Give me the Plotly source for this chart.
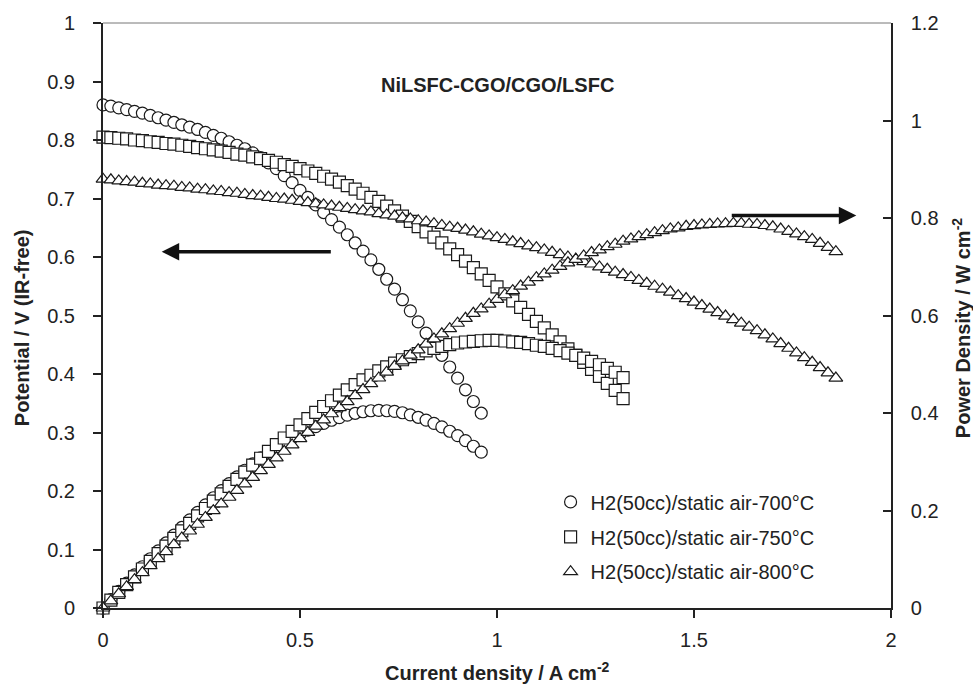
import plotly.graph_objects as go

# ---------------- data ----------------
I_700 = [0.00, 0.02, 0.04, 0.06, 0.08, 0.10, 0.12, 0.14, 0.16, 0.18, 0.20, 0.22, 0.24, 0.26, 0.28,
         0.30, 0.32, 0.34, 0.36, 0.38, 0.40, 0.42, 0.44, 0.46, 0.48, 0.50, 0.52, 0.54, 0.56, 0.58,
         0.60, 0.62, 0.64, 0.66, 0.68, 0.70, 0.72, 0.74, 0.76, 0.78, 0.80, 0.82, 0.84, 0.86, 0.88,
         0.90, 0.92, 0.94, 0.96]
V_700 = [0.860, 0.858, 0.855, 0.852, 0.849, 0.846, 0.842, 0.838, 0.834, 0.830, 0.826, 0.822, 0.818,
         0.813, 0.808, 0.803, 0.797, 0.791, 0.785, 0.778, 0.770, 0.761, 0.751, 0.739, 0.727, 0.714,
         0.702, 0.689, 0.676, 0.664, 0.651, 0.638, 0.624, 0.610, 0.595, 0.579, 0.562, 0.545, 0.527,
         0.508, 0.489, 0.470, 0.451, 0.432, 0.412, 0.393, 0.373, 0.353, 0.333]
P_700 = [0.0, 0.0172, 0.0342, 0.0511, 0.0679, 0.0846, 0.1010, 0.1173, 0.1334, 0.1494, 0.1652, 0.1808,
         0.1963, 0.2114, 0.2262, 0.2409, 0.2550, 0.2689, 0.2826, 0.2956, 0.3080, 0.3196, 0.3304,
         0.3399, 0.3490, 0.3570, 0.3650, 0.3721, 0.3786, 0.3851, 0.3906, 0.3956, 0.3994, 0.4026,
         0.4046, 0.4053, 0.4046, 0.4033, 0.4005, 0.3962, 0.3912, 0.3854, 0.3788, 0.3715, 0.3626,
         0.3537, 0.3432, 0.3318, 0.3197]

I_750 = [0.00, 0.02, 0.04, 0.06, 0.08, 0.10, 0.12, 0.14, 0.16, 0.18, 0.20, 0.22, 0.24, 0.26, 0.28,
         0.30, 0.32, 0.34, 0.36, 0.38, 0.40, 0.42, 0.44, 0.46, 0.48, 0.50, 0.52, 0.54, 0.56, 0.58,
         0.60, 0.62, 0.64, 0.66, 0.68, 0.70, 0.72, 0.74, 0.76, 0.78, 0.80, 0.82, 0.84, 0.86, 0.88,
         0.90, 0.92, 0.94, 0.96, 0.98, 1.00, 1.02, 1.04, 1.06, 1.08, 1.10, 1.12, 1.14, 1.16, 1.18,
         1.20, 1.22, 1.24, 1.26, 1.28, 1.30, 1.32]
V_750 = [0.805, 0.804, 0.803, 0.802, 0.800, 0.799, 0.797, 0.796, 0.794, 0.793, 0.791, 0.789, 0.787,
         0.785, 0.783, 0.781, 0.779, 0.776, 0.774, 0.771, 0.768, 0.765, 0.762, 0.758, 0.755, 0.751,
         0.747, 0.743, 0.738, 0.733, 0.728, 0.722, 0.716, 0.709, 0.702, 0.695, 0.687, 0.679, 0.670,
         0.661, 0.652, 0.643, 0.634, 0.624, 0.614, 0.604, 0.593, 0.582, 0.571, 0.560, 0.549, 0.537,
         0.525, 0.514, 0.502, 0.490, 0.479, 0.467, 0.455, 0.443, 0.432, 0.420, 0.408, 0.396, 0.384,
         0.372, 0.358]
P_750 = [0.0, 0.0161, 0.0321, 0.0481, 0.0640, 0.0800, 0.0956, 0.1114, 0.1270, 0.1427, 0.1582, 0.1736,
         0.1889, 0.2041, 0.2192, 0.2343, 0.2493, 0.2638, 0.2786, 0.2930, 0.3072, 0.3213, 0.3353,
         0.3487, 0.3624, 0.3755, 0.3884, 0.4012, 0.4133, 0.4251, 0.4368, 0.4476, 0.4582, 0.4679,
         0.4774, 0.4865, 0.4946, 0.5025, 0.5092, 0.5156, 0.5216, 0.5273, 0.5326, 0.5366, 0.5403,
         0.5436, 0.5456, 0.5471, 0.5482, 0.5488, 0.5490, 0.5477, 0.5460, 0.5448, 0.5422, 0.5390,
         0.5365, 0.5324, 0.5278, 0.5227, 0.5184, 0.5124, 0.5059, 0.4990, 0.4915, 0.4836, 0.4726]

I_800 = [0.00, 0.02, 0.04, 0.06, 0.08, 0.10, 0.12, 0.14, 0.16, 0.18, 0.20, 0.22, 0.24, 0.26, 0.28,
         0.30, 0.32, 0.34, 0.36, 0.38, 0.40, 0.42, 0.44, 0.46, 0.48, 0.50, 0.52, 0.54, 0.56, 0.58,
         0.60, 0.62, 0.64, 0.66, 0.68, 0.70, 0.72, 0.74, 0.76, 0.78, 0.80, 0.82, 0.84, 0.86, 0.88,
         0.90, 0.92, 0.94, 0.96, 0.98, 1.00, 1.02, 1.04, 1.06, 1.08, 1.10, 1.12, 1.14, 1.16, 1.18,
         1.20, 1.22, 1.24, 1.26, 1.28, 1.30, 1.32, 1.34, 1.36, 1.38, 1.40, 1.42, 1.44, 1.46, 1.48,
         1.50, 1.52, 1.54, 1.56, 1.58, 1.60, 1.62, 1.64, 1.66, 1.68, 1.70, 1.72, 1.74, 1.76, 1.78,
         1.80, 1.82, 1.84, 1.86]
V_800 = [0.733, 0.732, 0.730, 0.729, 0.728, 0.726, 0.725, 0.723, 0.722, 0.721,
         0.719, 0.718, 0.716, 0.715, 0.713, 0.712, 0.710, 0.709, 0.707, 0.705,
         0.704, 0.702, 0.700, 0.699, 0.697, 0.695, 0.693, 0.691, 0.689, 0.687,
         0.685, 0.683, 0.681, 0.679, 0.677, 0.674, 0.672, 0.670, 0.667, 0.665,
         0.662, 0.660, 0.657, 0.654, 0.651, 0.649, 0.646, 0.643, 0.639, 0.636,
         0.633, 0.630, 0.626, 0.623, 0.619, 0.616, 0.612, 0.608, 0.604, 0.600,
         0.596, 0.592, 0.588, 0.583, 0.579, 0.574, 0.570, 0.565, 0.560, 0.555,
         0.550, 0.545, 0.540, 0.534, 0.529, 0.523, 0.517, 0.511, 0.505, 0.499,
         0.493, 0.487, 0.480, 0.474, 0.467, 0.460, 0.452, 0.444, 0.436, 0.428,
         0.420, 0.411, 0.402, 0.393]
P_800 = [0.0, 0.0146, 0.0292, 0.0437, 0.0582, 0.0726, 0.0870, 0.1012, 0.1155, 0.1298,
         0.1438, 0.1580, 0.1718, 0.1859, 0.1996, 0.2136, 0.2272, 0.2411, 0.2545, 0.2679,
         0.2816, 0.2948, 0.3080, 0.3215, 0.3346, 0.3475, 0.3604, 0.3731, 0.3858, 0.3985,
         0.4110, 0.4235, 0.4358, 0.4481, 0.4604, 0.4718, 0.4838, 0.4958, 0.5069, 0.5187,
         0.5296, 0.5412, 0.5519, 0.5624, 0.5729, 0.5841, 0.5943, 0.6044, 0.6134, 0.6233,
         0.6330, 0.6426, 0.6510, 0.6604, 0.6685, 0.6776, 0.6854, 0.6931, 0.7006, 0.7080,
         0.7152, 0.7222, 0.7291, 0.7346, 0.7411, 0.7462, 0.7524, 0.7571, 0.7616, 0.7659,
         0.7700, 0.7739, 0.7776, 0.7796, 0.7829, 0.7845, 0.7858, 0.7869, 0.7878, 0.7884,
         0.7888, 0.7889, 0.7872, 0.7868, 0.7846, 0.7820, 0.7774, 0.7726, 0.7674, 0.7618,
         0.7560, 0.7480, 0.7397, 0.7310]

series_names = ["H2(50cc)/static air-700°C", "H2(50cc)/static air-750°C", "H2(50cc)/static air-800°C"]
symbols = ["circle", "square", "triangle-up"]
legend_ids = ["legend", "legend2", "legend3"]

title_text = "NiLSFC-CGO/CGO/LSFC"
x_title = "Current density / A cm<sup>-2</sup>"
y_title = "Potential / V (IR-free)"
y2_title = "Power Density / W cm<sup>-2</sup>"

x_ticks = [0, 0.5, 1, 1.5, 2]
y_ticks = [0, 0.1, 0.2, 0.3, 0.4, 0.5, 0.6, 0.7, 0.8, 0.9, 1]
y2_ticks = [0, 0.2, 0.4, 0.6, 0.8, 1, 1.2]

# ---------------- figure ----------------
FONT = "Liberation Sans, Arial, Helvetica, sans-serif"
EDGE = "#1a1a1a"

currents = [I_700, I_750, I_800]
potentials = [V_700, V_750, V_800]
powers = [P_700, P_750, P_800]

fig = go.Figure()

for i in range(3):
    fig.add_trace(go.Scatter(
        x=currents[i], y=potentials[i], mode="markers", name=series_names[i],
        legend=legend_ids[i], cliponaxis=False, yaxis="y",
        marker=dict(symbol=symbols[i], size=12, color="white", line=dict(color=EDGE, width=1.2)),
    ))
for i in range(3):
    fig.add_trace(go.Scatter(
        x=currents[i], y=powers[i], mode="markers", name=series_names[i],
        showlegend=False, cliponaxis=False, yaxis="y2",
        marker=dict(symbol=symbols[i], size=12, color="white", line=dict(color=EDGE, width=1.2)),
    ))

axis_common = dict(showgrid=False, zeroline=False, showline=True, linecolor="#222",
                   tickcolor="#222", tickfont=dict(size=20, color="#222", family=FONT))

legend_common = dict(xanchor="left", yanchor="middle", x=0.568, bgcolor="rgba(0,0,0,0)",
                     font=dict(size=20, color="#222", family=FONT), borderwidth=0)

fig.update_layout(
    width=973, height=686,
    margin=dict(l=103, r=82, t=21, b=78),
    paper_bgcolor="white", plot_bgcolor="white",
    font=dict(family=FONT, color="#222"),
    xaxis=dict(range=[0, 2], tickvals=x_ticks, ticks="outside", ticklen=8, tickwidth=1.5,
               linewidth=2, ticklabelstandoff=5, **axis_common),
    yaxis=dict(range=[0, 1], tickvals=y_ticks, ticks="outside", ticklen=8, tickwidth=1.5,
               linewidth=2, ticklabelstandoff=14, **axis_common),
    yaxis2=dict(range=[0, 1.2], tickvals=y2_ticks, overlaying="y", side="right",
                ticks="inside", ticklen=8, tickwidth=1.5, linewidth=1.5,
                ticklabelstandoff=14, **axis_common),
    legend=dict(y=0.1813, **legend_common),
    legend2=dict(y=0.1217, **legend_common),
    legend3=dict(y=0.0621, **legend_common),
    showlegend=True,
)

# thin top border of the plot area
fig.add_shape(type="line", xref="paper", yref="paper", x0=0, x1=1, y0=1, y1=1,
              line=dict(color="#777777", width=1))

annotations = [
    dict(text="<b>" + title_text + "</b>", xref="paper", yref="paper", x=0.5, y=0.8945,
         showarrow=False, font=dict(size=20, family=FONT, color="#222"),
         xanchor="center", yanchor="middle"),
    dict(text="<b>" + x_title + "</b>", xref="paper", yref="paper", x=0.5, y=-0.108,
         showarrow=False, font=dict(size=20, family=FONT, color="#222"),
         xanchor="center", yanchor="middle"),
    dict(text="<b>" + y_title + "</b>", xref="paper", yref="paper", x=-0.1028, y=0.48,
         showarrow=False, textangle=-90, font=dict(size=20, family=FONT, color="#222"),
         xanchor="center", yanchor="middle"),
    dict(text="<b>" + y2_title + "</b>", xref="paper", yref="paper", x=1.0888, y=0.48,
         showarrow=False, textangle=-90, font=dict(size=20, family=FONT, color="#222"),
         xanchor="center", yanchor="middle"),
    # arrows
    dict(text="", x=0.149, y=0.609, ax=0.582, ay=0.609, xref="x", yref="y", axref="x", ayref="y",
         showarrow=True, arrowhead=2, arrowsize=1, arrowwidth=3.5, arrowcolor="#111"),
    dict(text="", x=1.912, y=0.805, ax=1.592, ay=0.805, xref="x", yref="y2", axref="x", ayref="y2",
         showarrow=True, arrowhead=2, arrowsize=1, arrowwidth=3.5, arrowcolor="#111"),
]
fig.update_layout(annotations=annotations)

fig.write_html("out.html")
